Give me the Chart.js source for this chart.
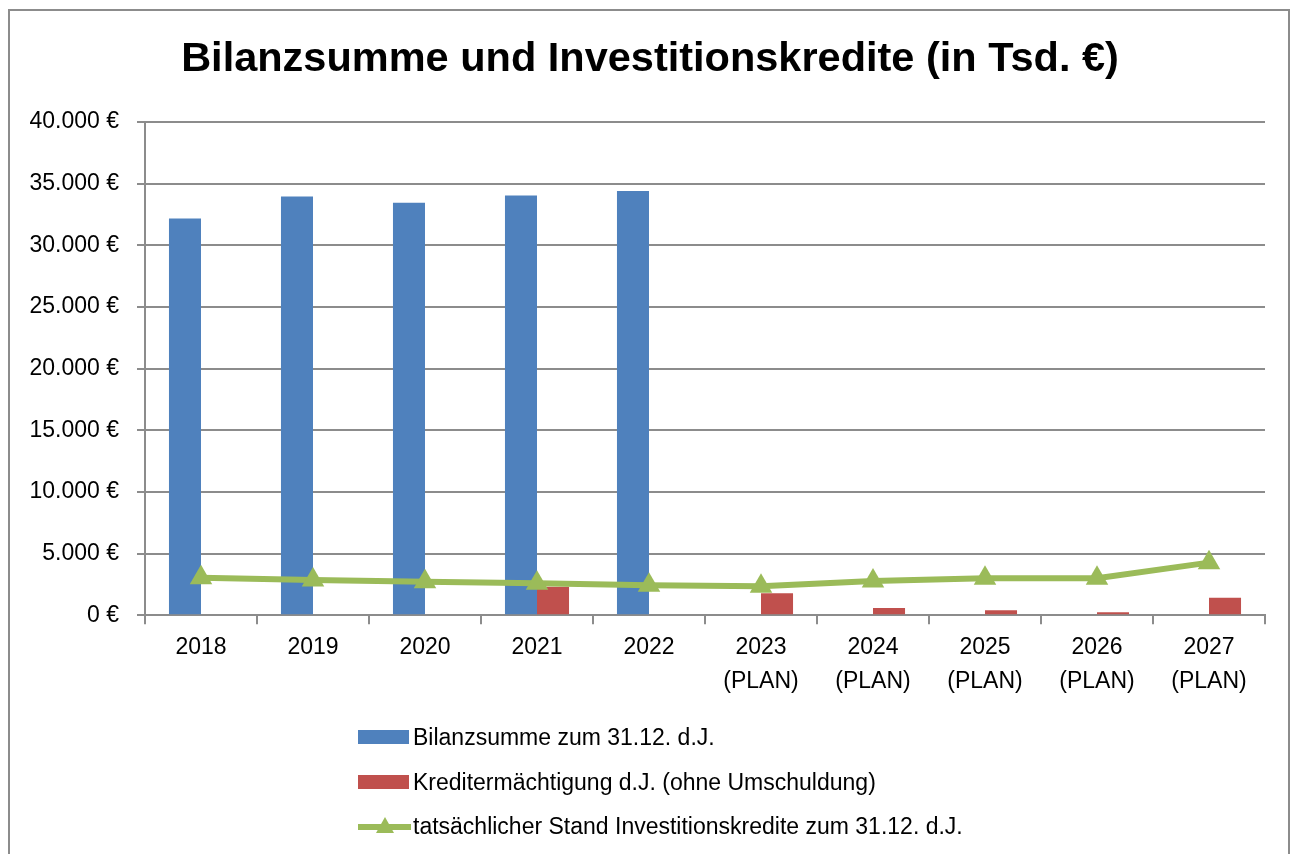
<!DOCTYPE html>
<html>
<head>
<meta charset="utf-8">
<script src="https://cdn.jsdelivr.net/npm/chart.js@4"></script>
<style>
  html, body { margin: 0; padding: 0; background: #fff; }
  #wrap { position: absolute; left: 0; top: 0; width: 1299px; height: 854px; }
  #frame { position: absolute; left: 8px; top: 9px; width: 1282px; height: 900px; border: 2px solid #8c8c8c; box-sizing: border-box; pointer-events: none; }
  #legend { position: absolute; left: 358px; top: 725px; font-family: "Liberation Sans", Arial, sans-serif; font-size: 23px; color: #000; }
  .item { position: absolute; left: 0; white-space: nowrap; height: 24px; line-height: 24px; }
  .sw { position: absolute; left: 0; }
  .lbl { position: absolute; left: 55px; top: 0; }
</style>
</head>
<body>
<div id="wrap"><canvas id="c" width="1299" height="854"></canvas></div>
<div id="frame"></div>
<div id="legend"></div>
<script>
const categories = [["2018"], ["2019"], ["2020"], ["2021"], ["2022"],
  ["2023", "(PLAN)"], ["2024", "(PLAN)"], ["2025", "(PLAN)"], ["2026", "(PLAN)"], ["2027", "(PLAN)"]];
const bilanzsumme = [32170, 33950, 33460, 34040, 34400, null, null, null, null, null];
const kreditermaechtigung = [null, null, null, 2320, null, 1780, 600, 400, 240, 1430];
const investitionskredite = [3050, 2860, 2730, 2600, 2430, 2350, 2780, 3000, 3000, 4270];
const seriesNames = [
  "Bilanzsumme zum 31.12. d.J.",
  "Kreditermächtigung d.J. (ohne Umschuldung)",
  "tatsächlicher Stand Investitionskredite zum 31.12. d.J."
];
const titleText = "Bilanzsumme und Investitionskredite (in Tsd. €)";

const BLUE = "#4F81BD", RED = "#C0504D", GREEN = "#9BBB59", GRID = "#8c8c8c";
const FONT = "'Liberation Sans', Arial, sans-serif";

function fmt(v) {
  const s = Math.round(v).toString();
  return s.replace(/\B(?=(\d{3})+(?!\d))/g, ".") + " €";
}

const titlePlugin = {
  id: "centeredTitle",
  afterDraw(ch) {
    const ctx = ch.ctx;
    ctx.save();
    ctx.font = "bold 41.5px " + FONT;
    ctx.fillStyle = "#000";
    ctx.textAlign = "center";
    ctx.textBaseline = "middle";
    ctx.fillText(titleText, 650, 60);
    ctx.restore();
  }
};

const chart = new Chart(document.getElementById("c"), {
  data: {
    labels: categories,
    datasets: [
      { type: "bar", label: seriesNames[0], data: bilanzsumme, backgroundColor: BLUE,
        categoryPercentage: 0.572, barPercentage: 1.0, order: 2 },
      { type: "bar", label: seriesNames[1], data: kreditermaechtigung, backgroundColor: RED,
        categoryPercentage: 0.572, barPercentage: 1.0, order: 2 },
      { type: "line", label: seriesNames[2], data: investitionskredite, borderColor: GREEN,
        backgroundColor: GREEN, borderWidth: 6, pointStyle: "triangle", pointRadius: 13,
        pointHoverRadius: 13, pointBorderWidth: 0, tension: 0, order: 0 }
    ]
  },
  plugins: [titlePlugin],
  options: {
    responsive: false,
    animation: false,
    layout: { padding: { left: 18, right: 34, top: 122, bottom: 149 } },
    plugins: {
      legend: { display: false },
      tooltip: { enabled: false },
      title: { display: false }
    },
    scales: {
      x: {
        offset: true,
        grid: { display: true, offset: true, drawOnChartArea: false, color: GRID, lineWidth: 2, tickLength: 9 },
        border: { display: true, color: GRID, width: 2 },
        ticks: { color: "#000", font: { family: FONT, size: 23, lineHeight: 1.45 }, padding: 7, maxRotation: 0, autoSkip: false }
      },
      y: {
        min: 0, max: 40000,
        afterFit: s => { s.width = 127; },
        grid: { color: GRID, lineWidth: 2, tickLength: 8 },
        border: { display: true, color: GRID, width: 2 },
        ticks: { stepSize: 5000, color: "#000", font: { family: FONT, size: 23 }, padding: 18,
          callback: v => fmt(v) }
      }
    }
  }
});

// HTML legend built from the chart datasets
const legend = document.getElementById("legend");
chart.data.datasets.forEach((ds, i) => {
  const item = document.createElement("div");
  item.className = "item";
  item.style.top = (i * 44.5) + "px";
  if (ds.type === "bar") {
    const sw = document.createElement("div");
    sw.className = "sw";
    sw.style.cssText = "left:0;top:5px;width:51px;height:14px;background:" + ds.backgroundColor;
    item.appendChild(sw);
  } else {
    const cv = document.createElement("canvas");
    cv.width = 56; cv.height = 24;
    cv.style.cssText = "position:absolute;left:-2px;top:0";
    const g = cv.getContext("2d");
    g.strokeStyle = ds.borderColor; g.lineWidth = 6;
    g.beginPath(); g.moveTo(2, 13); g.lineTo(55, 13); g.stroke();
    g.fillStyle = ds.backgroundColor;
    g.beginPath(); g.moveTo(29, 3); g.lineTo(38, 19); g.lineTo(20, 19); g.closePath(); g.fill();
    item.appendChild(cv);
  }
  const lb = document.createElement("div");
  lb.className = "lbl";
  lb.textContent = ds.label;
  item.appendChild(lb);
  legend.appendChild(item);
});
</script>
</body>
</html>
